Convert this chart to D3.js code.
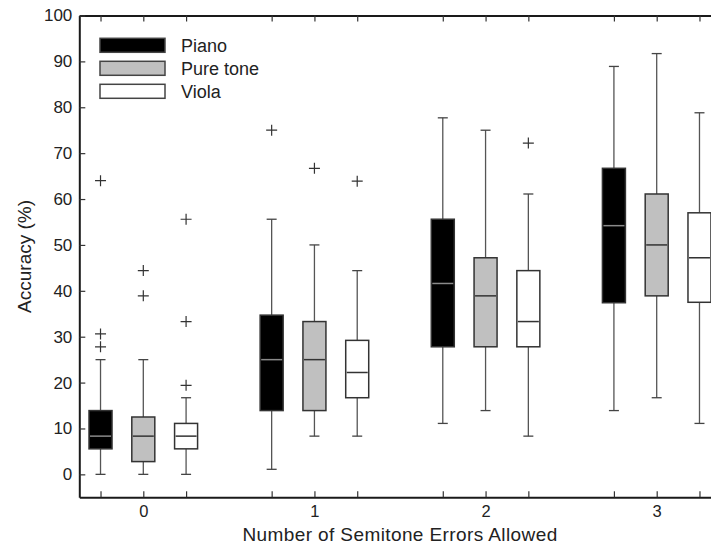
<!DOCTYPE html>
<html>
<head>
<meta charset="utf-8">
<script src="https://cdn.jsdelivr.net/npm/d3@7"></script>
<style>
    body { margin: 0; background: #fff; }
    text { font-family: "Liberation Sans", Arial, Helvetica, sans-serif; fill: #222; }
</style>
</head>
<body>
<div id="my_dataviz"></div>
<script>
// groups on the x axis and the three instruments
var errorLevels = [0, 1, 2, 3];
var instruments = ["Piano", "Pure tone", "Viola"];
var yTicks = [0, 10, 20, 30, 40, 50, 60, 70, 80, 90, 100];

// each row: [low whisker, q1, median, q3, high whisker]
var pianoBoxes = [[0, 5.56, 8.33, 13.9, 25], [1.1, 13.9, 25, 34.7, 55.6], [11.1, 27.8, 41.6, 55.6, 77.7], [13.9, 37.4, 54.2, 66.7, 88.9]];
var pureToneBoxes = [[0, 2.78, 8.33, 12.5, 25], [8.33, 13.9, 25, 33.3, 50], [13.9, 27.8, 38.9, 47.2, 75], [16.7, 38.9, 50, 61.1, 91.7]];
var violaBoxes = [[0, 5.56, 8.33, 11.1, 16.7], [8.33, 16.7, 22.2, 29.2, 44.4], [8.33, 27.8, 33.3, 44.4, 61.1], [11.1, 37.5, 47.2, 57, 78.8]];

// outliers ("+") per group
var pianoOutliers = [[64, 30.6, 27.8], [75], [], []];
var pureToneOutliers = [[44.4, 38.9], [66.7], [], []];
var violaOutliers = [[55.6, 33.3, 19.4], [63.9], [72.2], []];

var fills = ["#000000", "#c0c0c0", "#ffffff"];
var medianColors = ["#8a8a8a", "#333333", "#333333"];

function boxplot() {
    var W = 711, H = 544;
    // plot area (right edge runs a little past the window, as in the figure)
    var left = 79.3, right = 720.7, top = 15.5, bottom = 497.3;

    var svg = d3.select("#my_dataviz")
        .append("svg")
        .attr("width", W)
        .attr("height", H);

    var x = d3.scaleLinear()
        .domain([-0.374, 3.374])
        .range([left, right]);

    var y = d3.scaleLinear()
        .domain([-5, 100])
        .range([bottom, top]);

    var offsets = [-0.25, 0, 0.25];
    var boxW = 23;

    var series = [
        { name: instruments[0], boxes: pianoBoxes, outliers: pianoOutliers },
        { name: instruments[1], boxes: pureToneBoxes, outliers: pureToneOutliers },
        { name: instruments[2], boxes: violaBoxes, outliers: violaOutliers }
    ];

    // tick positions = every box position
    var tickPos = [];
    errorLevels.forEach(function (g) {
        offsets.forEach(function (o) { tickPos.push(g + o); });
    });

    // bottom axis
    var xAxis = svg.append("g")
        .attr("transform", "translate(0," + bottom + ")")
        .call(d3.axisBottom(x)
            .tickValues(tickPos)
            .tickSize(-6)
            .tickSizeOuter(0)
            .tickPadding(8)
            .tickFormat(function (d) {
                var r = Math.round(d);
                return Math.abs(d - r) < 1e-6 ? r : "";
            }));
    xAxis.selectAll("text").style("font-size", "16.5px");

    // top axis, no labels
    svg.append("g")
        .attr("transform", "translate(0," + top + ")")
        .call(d3.axisTop(x).tickValues(tickPos).tickSize(-6).tickSizeOuter(0).tickFormat(""));

    // left axis
    var yAxis = svg.append("g")
        .attr("transform", "translate(" + left + ",0)")
        .call(d3.axisLeft(y)
            .tickValues(yTicks)
            .tickSize(-6)
            .tickSizeOuter(0)
            .tickPadding(7));
    yAxis.selectAll("text").style("font-size", "17px");

    // right axis (falls off the edge)
    svg.append("g")
        .attr("transform", "translate(" + right + ",0)")
        .call(d3.axisRight(y).tickValues(yTicks).tickSize(-6).tickSizeOuter(0).tickFormat(""));

    svg.selectAll(".domain").attr("stroke", "#1a1a1a").attr("stroke-width", 2);
    svg.selectAll(".tick line").attr("stroke", "#333").attr("stroke-width", 1.2);

    // boxes
    series.forEach(function (s, si) {
        var g = svg.append("g").attr("class", "series");
        s.boxes.forEach(function (b, gi) {
            var cx = x(errorLevels[gi] + offsets[si]);

            // whiskers
            g.append("line")
                .attr("x1", cx).attr("x2", cx)
                .attr("y1", y(b[0])).attr("y2", y(b[1]))
                .attr("stroke", "#555").attr("stroke-width", 1.3);
            g.append("line")
                .attr("x1", cx).attr("x2", cx)
                .attr("y1", y(b[3])).attr("y2", y(b[4]))
                .attr("stroke", "#555").attr("stroke-width", 1.3);
            // whisker caps
            [b[0], b[4]].forEach(function (v) {
                g.append("line")
                    .attr("x1", cx - 5).attr("x2", cx + 5)
                    .attr("y1", y(v)).attr("y2", y(v))
                    .attr("stroke", "#444").attr("stroke-width", 1.3);
            });

            // box
            g.append("rect")
                .attr("x", cx - boxW / 2)
                .attr("y", y(b[3]))
                .attr("width", boxW)
                .attr("height", y(b[1]) - y(b[3]))
                .attr("fill", fills[si])
                .attr("stroke", "#333")
                .attr("stroke-width", 1.5);

            // median
            g.append("line")
                .attr("x1", cx - boxW / 2 + 1).attr("x2", cx + boxW / 2 - 1)
                .attr("y1", y(b[2])).attr("y2", y(b[2]))
                .attr("stroke", medianColors[si]).attr("stroke-width", 1.5);

            // outliers as +
            s.outliers[gi].forEach(function (v) {
                g.append("path")
                    .attr("d", "M" + (cx - 5.5) + "," + y(v) + "h11M" + cx + "," + (y(v) - 5.5) + "v11")
                    .attr("stroke", "#333")
                    .attr("stroke-width", 1.2)
                    .attr("fill", "none");
            });
        });
    });

    // legend
    var legend = svg.append("g").attr("transform", "translate(100,38.3)");
    series.forEach(function (s, i) {
        legend.append("rect")
            .attr("x", 0)
            .attr("y", i * 23)
            .attr("width", 65)
            .attr("height", 14)
            .attr("fill", fills[i])
            .attr("stroke", "#444")
            .attr("stroke-width", 1.5);
        legend.append("text")
            .attr("x", 81)
            .attr("y", i * 23 + 14)
            .style("font-size", "18px")
            .text(s.name);
    });

    // axis labels
    svg.append("text")
        .attr("x", (left + right) / 2)
        .attr("y", 541)
        .style("text-anchor", "middle")
        .style("font-size", "19px")
        .style("letter-spacing", "0.4px")
        .text("Number of Semitone Errors Allowed");

    svg.append("text")
        .attr("transform", "rotate(-90)")
        .attr("x", -(top + bottom) / 2)
        .attr("y", 31)
        .style("text-anchor", "middle")
        .style("font-size", "19px")
        .text("Accuracy (%)");
}

boxplot();
</script>
</body>
</html>
